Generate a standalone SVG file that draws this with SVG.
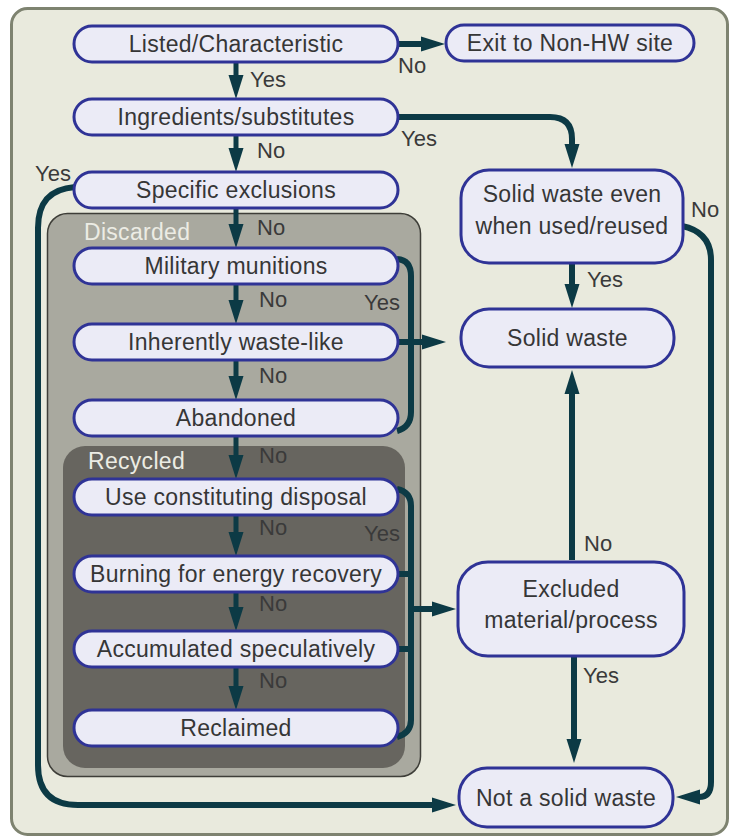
<svg xmlns="http://www.w3.org/2000/svg" width="732" height="838" viewBox="0 0 732 838">
<style>
.box{fill:#ebebf6;stroke:#2f3396;stroke-width:3}
.t{font-family:"Liberation Sans",Arial,sans-serif;font-size:23px;letter-spacing:0.3px;fill:#363636;text-anchor:middle}
.lb{font-family:"Liberation Sans",Arial,sans-serif;font-size:22px;fill:#3a3a3a}
.grp{font-family:"Liberation Sans",Arial,sans-serif;font-size:23px;letter-spacing:0.3px;fill:#ecece4}
.c{fill:none;stroke:#0c3a45;stroke-width:6}
.s{fill:none;stroke:#0c3a45;stroke-width:5}
</style>
<defs>
<marker id="ah" markerUnits="userSpaceOnUse" viewBox="0 0 24 16" markerWidth="24" markerHeight="16" refX="1" refY="8" orient="auto">
<path d="M0,0.5 L24,8 L0,15.5 Z" fill="#0c3a45"/>
</marker>
</defs>
<rect x="11.5" y="8.5" width="716" height="826" rx="16" fill="#e9eadd" stroke="#7e8370" stroke-width="3"/>
<g id="discarded">
<rect x="47.5" y="213.5" width="373" height="563" rx="20" fill="#a9a99f" stroke="#3e3e38" stroke-width="1.5"/>
<text class="grp" x="84" y="240">Discarded</text>
</g>
<g id="recycled">
<rect x="63" y="446" width="342" height="322" rx="22" fill="#67655f"/>
<text class="grp" x="88" y="469">Recycled</text>
</g>
<g id="connectors">
<path class="s" d="M236 62 L236 76" marker-end="url(#ah)"/>
<path class="s" d="M236 135 L236 149" marker-end="url(#ah)"/>
<path class="s" d="M236 208 L236 225" marker-end="url(#ah)"/>
<path class="s" d="M236 284 L236 301" marker-end="url(#ah)"/>
<path class="s" d="M236 360 L236 377" marker-end="url(#ah)"/>
<path class="s" d="M236 436 L236 456" marker-end="url(#ah)"/>
<path class="s" d="M236 515 L236 533" marker-end="url(#ah)"/>
<path class="s" d="M236 592 L236 608" marker-end="url(#ah)"/>
<path class="s" d="M236 667 L236 687" marker-end="url(#ah)"/>
<path class="c" d="M399 44 L422 44" marker-end="url(#ah)"/>
<path class="c" d="M399 117 L550 117 Q572 117 572 139 L572 145" marker-end="url(#ah)"/>
<path class="c" d="M572 264 L572 285" marker-end="url(#ah)"/>
<path class="c" d="M397 259 Q411 260 411 276 L411 412 Q411 427 397 431"/>
<path class="c" d="M399 342 L423 342" marker-end="url(#ah)"/>
<path class="c" d="M397 489 Q411 492 411 506 L411 720 Q411 733 397 737"/>
<path class="c" d="M398 574 L411 574 M398 649 L411 649"/>
<path class="c" d="M411 609 L433 609" marker-end="url(#ah)"/>
<path class="c" d="M572 560 L572 393" marker-end="url(#ah)"/>
<path class="c" d="M574 656 L574 740" marker-end="url(#ah)"/>
<path class="c" d="M75 187 C50 189 38 202 38 228 L38 765 Q38 805 78 805 L433 805" marker-end="url(#ah)"/>
<path class="c" d="M682 226 Q711 232 711 260 L711 782 Q711 797 699 797" marker-end="url(#ah)"/>
<text class="lb" x="250" y="87">Yes</text>
<text class="lb" x="257" y="158">No</text>
<text class="lb" x="257" y="235">No</text>
<text class="lb" x="259" y="307">No</text>
<text class="lb" x="259" y="383">No</text>
<text class="lb" x="259" y="463">No</text>
<text class="lb" x="259" y="535">No</text>
<text class="lb" x="259" y="611">No</text>
<text class="lb" x="259" y="688">No</text>
<text class="lb" x="398" y="73">No</text>
<text class="lb" x="401" y="146">Yes</text>
<text class="lb" x="691" y="217">No</text>
<text class="lb" x="587" y="287">Yes</text>
<text class="lb" x="364" y="310">Yes</text>
<text class="lb" x="364" y="541">Yes</text>
<text class="lb" x="584" y="551">No</text>
<text class="lb" x="583" y="683">Yes</text>
<text class="lb" x="35" y="181">Yes</text>
</g>
<g id="n-listed"><rect class="box" x="74" y="26" width="324" height="36" rx="18"/><text class="t" x="236" y="52">Listed/Characteristic</text></g>
<g id="n-ingredients"><rect class="box" x="74" y="99" width="324" height="36" rx="18"/><text class="t" x="236" y="125">Ingredients/substitutes</text></g>
<g id="n-specific"><rect class="box" x="74" y="172" width="324" height="36" rx="18"/><text class="t" x="236" y="198">Specific exclusions</text></g>
<g id="n-military"><rect class="box" x="74" y="248" width="324" height="36" rx="18"/><text class="t" x="236" y="274">Military munitions</text></g>
<g id="n-inherently"><rect class="box" x="74" y="324" width="324" height="36" rx="18"/><text class="t" x="236" y="350">Inherently waste-like</text></g>
<g id="n-abandoned"><rect class="box" x="74" y="400" width="324" height="36" rx="18"/><text class="t" x="236" y="426">Abandoned</text></g>
<g id="n-use"><rect class="box" x="74" y="479" width="324" height="36" rx="18"/><text class="t" x="236" y="505">Use constituting disposal</text></g>
<g id="n-burning"><rect class="box" x="74" y="556" width="324" height="36" rx="18"/><text class="t" x="236" y="582">Burning for energy recovery</text></g>
<g id="n-accumulated"><rect class="box" x="74" y="631" width="324" height="36" rx="18"/><text class="t" x="236" y="657">Accumulated speculatively</text></g>
<g id="n-reclaimed"><rect class="box" x="74" y="710" width="324" height="36" rx="18"/><text class="t" x="236" y="736">Reclaimed</text></g>
<g id="n-exit"><rect class="box" x="446" y="25" width="248" height="36" rx="18"/><text class="t" x="570" y="51">Exit to Non-HW site</text></g>
<g id="n-solideven"><rect class="box" x="461" y="170" width="222" height="93" rx="28"/><text class="t" x="572" y="202">Solid waste even</text><text class="t" x="572" y="234">when used/reused</text></g>
<g id="n-solid"><rect class="box" x="461" y="309" width="213" height="58" rx="28"/><text class="t" x="567.5" y="346">Solid waste</text></g>
<g id="n-excluded"><rect class="box" x="458" y="562" width="226" height="94" rx="30"/><text class="t" x="571" y="597">Excluded</text><text class="t" x="571" y="628">material/process</text></g>
<g id="n-not"><rect class="box" x="459" y="768" width="214" height="59" rx="28"/><text class="t" x="566" y="806">Not a solid waste</text></g>
</svg>
